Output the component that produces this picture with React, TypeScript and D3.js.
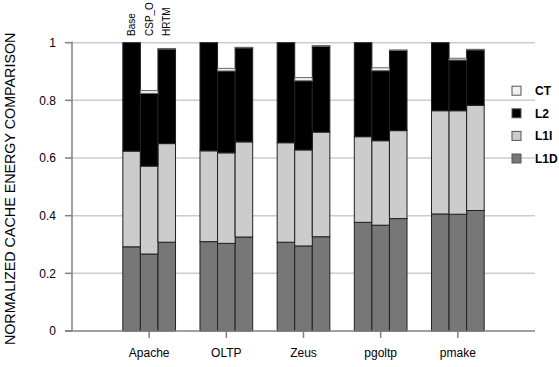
import React from 'react';
import {scaleBand, scaleLinear, stack} from 'd3';

const benchmarks = ['Apache', 'OLTP', 'Zeus', 'pgoltp', 'pmake'];
const configs = ['Base', 'CSP_O', 'HRTM'];
const components = ['L1D', 'L1I', 'L2', 'CT'];
const yTicks = [0, 0.2, 0.4, 0.6, 0.8, 1];

// per benchmark: [Base, CSP_O, HRTM]
const L1D = [[0.292, 0.267, 0.308], [0.31, 0.304, 0.326], [0.308, 0.295, 0.327], [0.377, 0.367, 0.39], [0.406, 0.405, 0.418]];
const L1I = [[0.332, 0.305, 0.342], [0.315, 0.314, 0.33], [0.345, 0.333, 0.363], [0.297, 0.293, 0.305], [0.358, 0.359, 0.365]];
const L2 = [[0.376, 0.252, 0.328], [0.375, 0.284, 0.326], [0.347, 0.24, 0.298], [0.326, 0.243, 0.278], [0.236, 0.176, 0.192]];
const CT = [[0, 0.01, 0.002], [0, 0.009, 0.002], [0, 0.011, 0.002], [0, 0.01, 0.002], [0, 0.006, 0.002]];

const colors: Record<string, string> = {L1D: '#777777', L1I: '#cccccc', L2: '#000000', CT: '#f2f2f2'};

const W = 559, H = 367;
const left = 72, right = 535, top = 42.7, bottom = 331;

export default function App() {
  const rows = benchmarks.flatMap((b, i) =>
    configs.map((c, j) => ({bench: b, config: c, L1D: L1D[i][j], L1I: L1I[i][j], L2: L2[i][j], CT: CT[i][j]}))
  );
  const series = stack<any>().keys(components)(rows);

  const step = (right - left) / (benchmarks.length + 1);
  const x0 = scaleBand().domain(benchmarks).range([left + step / 2, right - step / 2]);
  const groupW = 52.7;
  const x1 = scaleBand().domain(configs).range([0, groupW]);
  const y = scaleLinear().domain([0, 1]).range([bottom, top]);
  const off = (x0.bandwidth() - groupW) / 2;

  return (
    <svg width={W} height={H} style={{position: 'absolute', left: 0, top: 0, fontFamily: 'Liberation Sans, Arial, sans-serif'}}>
      <rect width={W} height={H} fill="#fff" />
      {yTicks.slice(1).map(t => (
        <line key={t} x1={left} x2={right} y1={y(t)} y2={y(t)} stroke="#cccccc" strokeWidth={1.5} />
      ))}
      {series.map(s => (
        <g key={s.key} fill={colors[s.key]}>
          {s.map((d: any, k: number) => (
            <rect key={k}
              x={x0(d.data.bench)! + off + x1(d.data.config)!}
              y={y(d[1])}
              width={x1.bandwidth()}
              height={Math.max(0, y(d[0]) - y(d[1]))}
              stroke={s.key === 'CT' ? '#666' : '#222'}
              strokeWidth={1} />
          ))}
        </g>
      ))}
      {/* y axis */}
      <line x1={left} x2={left} y1={bottom} y2={top - 1} stroke="#808080" strokeWidth={1.5} />
      {yTicks.map(t => (
        <g key={t} transform={`translate(0,${y(t)})`}>
          <line x1={left - 7} x2={left} stroke="#808080" strokeWidth={1.5} />
          <text x={56} dy="0.35em" textAnchor="end" fontSize={12}>{t}</text>
        </g>
      ))}
      {/* x axis */}
      <line x1={65} x2={right} y1={bottom} y2={bottom} stroke="#808080" strokeWidth={1.5} />
      {benchmarks.map(b => (
        <g key={b} transform={`translate(${x0(b)! + x0.bandwidth() / 2},0)`}>
          <line y1={bottom} y2={bottom + 7} stroke="#808080" strokeWidth={1.5} />
          <text y={357} textAnchor="middle" fontSize={12}>{b}</text>
        </g>
      ))}
      {/* config labels over first group */}
      {configs.map(c => {
        const cx = x0(benchmarks[0])! + off + x1(c)! + x1.bandwidth() / 2;
        return (
          <text key={c} transform={`translate(${cx},36) rotate(-90)`} dy="0.35em" fontSize={10}>{c}</text>
        );
      })}
      <text transform={`translate(15,${(top + bottom) / 2 + 2}) rotate(-90)`} textAnchor="middle" fontSize={14.3}>
        NORMALIZED CACHE ENERGY COMPARISON
      </text>
      {/* legend */}
      {components.slice().reverse().map((c, i) => (
        <g key={c} transform={`translate(512,${90.7 + i * 22.6})`}>
          <rect x={0} y={-4.5} width={9} height={9} fill={colors[c]} stroke="#555" strokeWidth={1} />
          <text x={23} dy="0.35em" fontSize={12} fontWeight="bold">{c}</text>
        </g>
      ))}
    </svg>
  );
}
